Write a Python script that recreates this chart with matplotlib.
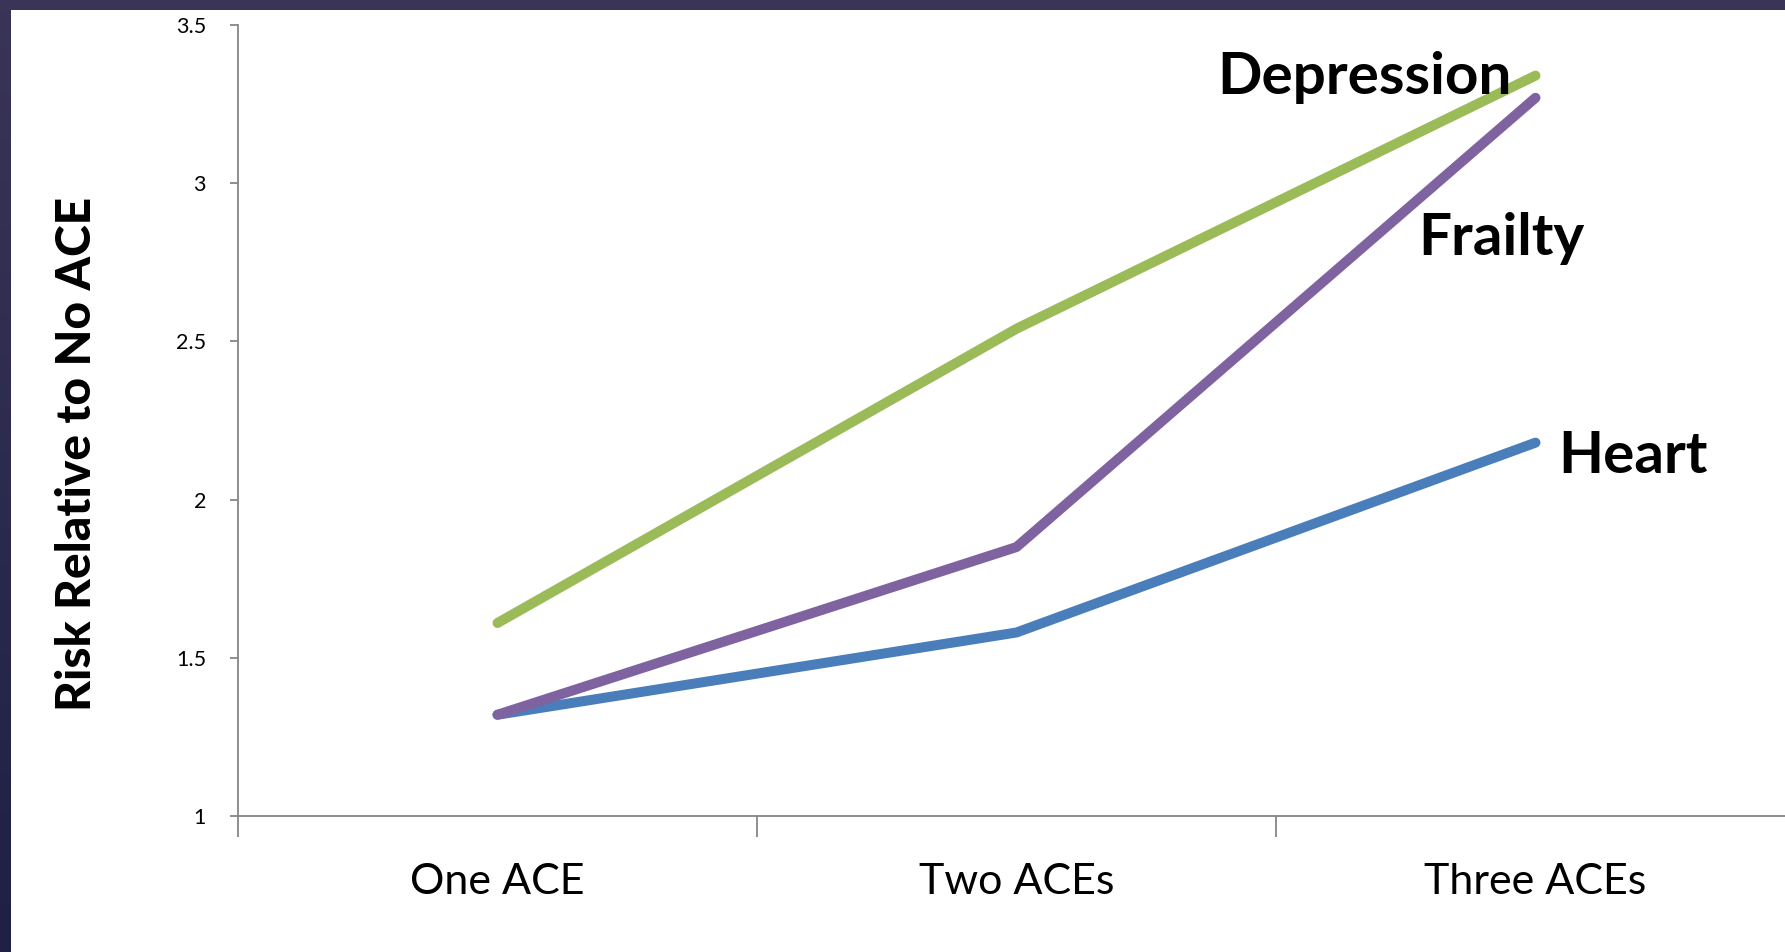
import numpy as np
import matplotlib
matplotlib.use("Agg")
import matplotlib.pyplot as plt
from matplotlib.patches import Rectangle
from matplotlib.colors import LinearSegmentedColormap

# Data
categories = ["One ACE", "Two ACEs", "Three ACEs"]
depression = [1.61, 2.54, 3.34]
frailty = [1.32, 1.85, 3.27]
heart = [1.32, 1.58, 2.18]
y_ticks = [1, 1.5, 2, 2.5, 3, 3.5]
y_tick_labels = ["1", "1.5", "2", "2.5", "3", "3.5"]

W, H = 1785, 952
fig = plt.figure(figsize=(W / 100, H / 100), dpi=100)
fig.patch.set_facecolor("white")

# Slide frame: dark band along top and left edges
top_band = Rectangle((0, 1 - 10 / H), 1, 10 / H, transform=fig.transFigure,
                     facecolor="#3a3556", edgecolor="none", zorder=10)
fig.patches.append(top_band)
band_ax = fig.add_axes([0, 0, 10 / W, 1])
grad = np.linspace(0, 1, 256).reshape(-1, 1)
cmap = LinearSegmentedColormap.from_list("frame", ["#3a3556", "#1f2046"])
band_ax.imshow(grad, aspect="auto", cmap=cmap, extent=[0, 1, 0, 1], origin="upper")
band_ax.set_axis_off()

# Plot area (category slots are 519 px wide, the last one runs past the edge)
left_px, right_px = 238, 238 + 3 * 519
top_px, bottom_px = 25, 816
ax = fig.add_axes([left_px / W, (H - bottom_px) / H,
                   (right_px - left_px) / W, (bottom_px - top_px) / H])

x = np.arange(len(categories))
lw = 7.2
ax.plot(x, heart, color="#4a7ebb", lw=lw, solid_capstyle="round",
        solid_joinstyle="round", zorder=3)
ax.plot(x, frailty, color="#7f63a1", lw=lw, solid_capstyle="round",
        solid_joinstyle="round", zorder=4)
ax.plot(x, depression, color="#9bbb59", lw=lw, solid_capstyle="round",
        solid_joinstyle="round", zorder=5)

ax.set_xlim(-0.5, 2.5)
ax.set_ylim(1, 3.5)

for side in ("top", "right"):
    ax.spines[side].set_visible(False)
for side in ("left", "bottom"):
    ax.spines[side].set_color("#868686")
    ax.spines[side].set_linewidth(1.3)

ax.set_yticks(y_ticks)
ax.set_yticklabels(y_tick_labels, fontfamily="Lato", fontsize=15.5)
ax.tick_params(axis="y", direction="out", length=6, width=1.3,
               color="#868686", pad=17)

# Category ticks sit between slots; labels centred in each slot
ax.set_xticks(np.arange(-0.5, 2.5, 1.0))
ax.set_xticklabels([])
ax.tick_params(axis="x", direction="out", length=15, width=1.3, color="#868686")
ax.set_xticks(x, minor=True)
ax.set_xticklabels(categories, minor=True, fontfamily="Lato", fontsize=31)
ax.tick_params(axis="x", which="minor", length=0, pad=34)

fig.text(77 / W, 1 - 454 / H, "Risk Relative to No ACE", rotation=90,
         ha="center", va="center", fontfamily="Lato", fontweight="black",
         fontsize=34.5)

# Series labels
label_kw = dict(fontfamily="Lato", fontweight="bold", fontsize=42,
                ha="left", va="baseline", zorder=6)
ax.text(1.386, 3.282, "Depression", **label_kw)
ax.text(1.774, 2.773, "Frailty", **label_kw)
ax.text(2.043, 2.084, "Heart", **label_kw)

fig.savefig("out.png", dpi=100)
